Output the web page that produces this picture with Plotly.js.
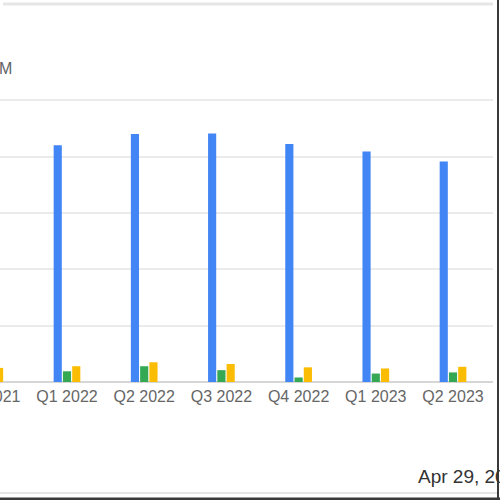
<!DOCTYPE html>
<html>
<head>
<meta charset="utf-8">
<script src="https://cdn.plot.ly/plotly-3.0.1.min.js"></script>
<style>
  html, body { margin: 0; padding: 0; overflow: hidden; background: #fff; }
  #chart { position: absolute; left: -60px; top: 0; width: 560px; height: 500px; }
</style>
</head>
<body>
<div id="chart"></div>
<script>
const quarters = ['Q4 2021', 'Q1 2022', 'Q2 2022', 'Q3 2022', 'Q4 2022', 'Q1 2023', 'Q2 2023']
const blueValues = [400, 420, 440, 441, 422, 409, 391]
const greenValues = [20, 19, 28, 21, 8, 15, 17]
const yellowValues = [25, 28, 35, 32, 26, 24, 27]

const unitLabel = 'M'
const dateLabel = 'Apr 29, 2023'

const Plotly = window.Plotly

// window px -> paper coords (plot area spans window x -60..493, y 99..382)
const px = x => (x + 60) / 553
const py = y => (382 - y) / 283

let makeTrace = (values, color) => ({
  x: quarters,
  y: values,
  type: 'bar',
  marker: { color: color },
  hoverinfo: 'skip',
  showlegend: false,
})

let data = [
  makeTrace(blueValues, '#4285F4'),
  makeTrace(greenValues, '#34A853'),
  makeTrace(yellowValues, '#FBBC04'),
]

let layout = {
  width: 560,
  height: 500,
  margin: { l: 0, r: 7, t: 99, b: 118 },
  paper_bgcolor: '#fff',
  plot_bgcolor: '#fff',
  font: { family: 'Liberation Sans, Arial, sans-serif', color: '#666' },
  barmode: 'group',
  bargap: 0.64,
  bargroupgap: 0.12,
  xaxis: {
    type: 'category',
    range: [-0.645, 6.518],
    showgrid: false,
    showline: false,
    ticks: '',
    ticklabelstandoff: 3,
    tickfont: { size: 16, color: '#666' },
    fixedrange: true,
  },
  yaxis: {
    range: [0, 502],
    dtick: 100,
    showticklabels: false,
    gridcolor: '#ebebeb',
    gridwidth: 2,
    zeroline: true,
    zerolinecolor: '#d6d6d6',
    zerolinewidth: 2,
    ticks: '',
    fixedrange: true,
  },
  shapes: [
    { type: 'line', xref: 'paper', yref: 'paper', x0: px(3), x1: px(493), y0: py(4), y1: py(4),
      line: { color: '#e6e6e6', width: 3 } },
    { type: 'line', xref: 'paper', yref: 'paper', x0: px(0), x1: px(497), y0: py(493), y1: py(493),
      line: { color: '#e6e6e6', width: 2 } },
    { type: 'line', xref: 'paper', yref: 'paper', x0: px(0), x1: px(500), y0: py(499), y1: py(499),
      line: { color: '#3a3a3a', width: 3 } },
    { type: 'line', xref: 'paper', yref: 'paper', x0: px(498), x1: px(498), y0: py(0), y1: py(500),
      line: { color: '#3a3a3a', width: 2 } },
  ],
  annotations: [
    {
      text: unitLabel,
      xref: 'paper', yref: 'paper',
      x: px(14), y: py(68),
      xanchor: 'right', yanchor: 'middle',
      showarrow: false,
      font: { size: 16, color: '#5f6368' },
    },
    {
      text: dateLabel,
      xref: 'paper', yref: 'paper',
      x: px(416), y: py(476),
      xanchor: 'left', yanchor: 'middle',
      showarrow: false,
      font: { size: 19, color: '#333' },
    },
  ],
}

Plotly.newPlot('chart', data, layout, { displayModeBar: false, staticPlot: true })
</script>
</body>
</html>
